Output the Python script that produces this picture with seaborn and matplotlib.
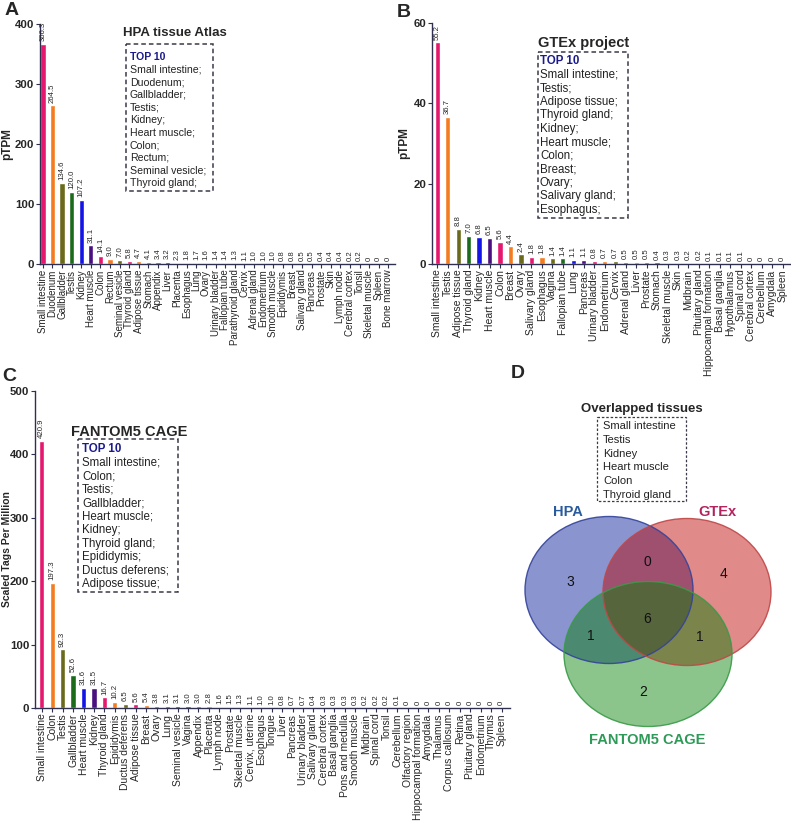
import numpy as np
import pandas as pd
import matplotlib
matplotlib.use("Agg")
import matplotlib.pyplot as plt
import seaborn as sns
from matplotlib.patches import Rectangle, Ellipse

W, H = 791, 834

# ---- data ----
hpa_tissues = ["Small intestine", "Duodenum", "Gallbladder", "Testis", "Kidney", "Heart muscle",
               "Colon", "Rectum", "Seminal vesicle", "Thyroid gland", "Adipose tissue", "Stomach",
               "Appendix", "Liver", "Placenta", "Esophagus", "Lung", "Ovary", "Urinary bladder",
               "Fallopian tube", "Parathyroid gland", "Cervix", "Adrenal gland", "Endometrium",
               "Smooth muscle", "Epididymis", "Breast", "Salivary gland", "Pancreas", "Prostate",
               "Skin", "Lymph node", "Cerebral cortex", "Tonsil", "Skeletal muscle", "Spleen",
               "Bone marrow"]
hpa_values = [366.3, 264.5, 134.6, 120.0, 107.2, 31.1, 14.1, 9.0, 7.0, 5.8, 4.7, 4.1, 3.4, 3.2,
              2.3, 1.8, 1.7, 1.6, 1.4, 1.4, 1.3, 1.1, 1.0, 1.0, 1.0, 0.8, 0.8, 0.5, 0.5, 0.4,
              0.4, 0.4, 0.2, 0.2, 0, 0, 0]

gtex_tissues = ["Small intestine", "Testis", "Adipose tissue", "Thyroid gland", "Kidney",
                "Heart muscle", "Colon", "Breast", "Ovary", "Salivary gland", "Esophagus", "Vagina",
                "Fallopian tube", "Lung", "Pancreas", "Urinary bladder", "Endometrium", "Cervix",
                "Adrenal gland", "Liver", "Prostate", "Stomach", "Skeletal muscle", "Skin",
                "Midbrain", "Pituitary gland", "Hippocampal formation", "Basal ganglia",
                "Hypothalamus", "Spinal cord", "Cerebral cortex", "Cerebellum", "Amygdala", "Spleen"]
gtex_values = [55.2, 36.7, 8.8, 7.0, 6.8, 6.5, 5.6, 4.4, 2.4, 1.8, 1.8, 1.4, 1.4, 1.1, 1.1,
               0.8, 0.7, 0.7, 0.5, 0.5, 0.5, 0.4, 0.3, 0.3, 0.2, 0.2, 0.1, 0.1, 0.1, 0.1,
               0, 0, 0, 0]

fantom_tissues = ["Small intestine", "Colon", "Testis", "Gallbladder", "Heart muscle", "Kidney",
                  "Thyroid gland", "Epididymis", "Ductus deferens", "Adipose tissue", "Breast",
                  "Ovary", "Lung", "Seminal vesicle", "Vagina", "Appendix", "Placenta",
                  "Lymph node", "Prostate", "Skeletal muscle", "Cervix, uterine", "Esophagus",
                  "Tongue", "Liver", "Pancreas", "Urinary bladder", "Salivary gland",
                  "Cerebral cortex", "Basal ganglia", "Pons and medulla", "Smooth muscle",
                  "Midbrain", "Spinal cord", "Tonsil", "Cerebellum", "Olfactory region",
                  "Hippocampal formation", "Amygdala", "Thalamus", "Corpus callosum", "Retina",
                  "Pituitary gland", "Endometrium", "Thymus", "Spleen"]
fantom_values = [420.9, 197.3, 92.3, 52.6, 31.6, 31.5, 16.7, 10.2, 6.5, 5.6, 5.4, 3.8, 3.1,
                 3.1, 3.0, 3.0, 2.8, 1.6, 1.5, 1.3, 1.1, 1.0, 1.0, 0.8, 0.7, 0.7, 0.4, 0.3,
                 0.3, 0.3, 0.3, 0.2, 0.2, 0.2, 0.1, 0, 0, 0, 0, 0, 0, 0, 0, 0, 0]

hpa_top10 = ["Small intestine;", "Duodenum;", "Gallbladder;", "Testis;", "Kidney;",
             "Heart muscle;", "Colon;", "Rectum;", "Seminal vesicle;", "Thyroid gland;"]
gtex_top10 = ["Small intestine;", "Testis;", "Adipose tissue;", "Thyroid gland;", "Kidney;",
              "Heart muscle;", "Colon;", "Breast;", "Ovary;", "Salivary gland;", "Esophagus;"]
fantom_top10 = ["Small intestine;", "Colon;", "Testis;", "Gallbladder;", "Heart muscle;",
                "Kidney;", "Thyroid gland;", "Epididymis;", "Ductus deferens;", "Adipose tissue;"]

overlap_tissues = ["Small intestine", "Testis", "Kidney", "Heart muscle", "Colon", "Thyroid gland"]
# region counts: HPA only, GTEx only, FANTOM only, HPA&GTEx, HPA&FANTOM, GTEx&FANTOM, all three
venn_counts = [3, 4, 2, 0, 1, 1, 6]

palette9 = ["#e6176f", "#f47c20", "#6b6a1c", "#1c6a1c", "#1414e6", "#4a0f80",
            "#e6176f", "#f47c20", "#6b6a1c"]

sns.set_style("ticks")
plt.rcParams['font.family'] = ['Liberation Sans', 'DejaVu Sans']

fig = plt.figure(figsize=(W / 100, H / 100), dpi=100)


def px_axes(x0, y0, x1, y1):
    return fig.add_axes([x0 / W, 1 - y1 / H, (x1 - x0) / W, (y1 - y0) / H])


def bar_panel(ax, tissues, values, ymax, ystep, ylabel, xlim, width, label_x,
              lab_fs=8.5, tick_fs=7.5):
    df = pd.DataFrame({"tissue": tissues, "value": values})
    colors = [palette9[i % 9] for i in range(len(tissues))]
    sns.barplot(data=df, x="tissue", y="value", hue="tissue", palette=colors,
                legend=False, width=width, saturation=1, ax=ax)
    for i, v in enumerate(values):
        lab = "0" if v == 0 else f"{v:.1f}"
        ax.annotate(lab, (i, v), xytext=(0, 2), textcoords="offset points",
                    rotation=90, ha="center", va="bottom", fontsize=5.6)
    ax.set_xlim(*xlim)
    ax.set_ylim(0, ymax)
    ax.set_yticks(np.arange(0, ymax + 1, ystep))
    ax.set_xticks(range(len(tissues)))
    ax.set_xticklabels(tissues, rotation=90, fontsize=tick_fs)
    for t in ax.get_yticklabels():
        t.set_fontweight("bold")
        t.set_fontsize(8.2)
    ax.tick_params(axis="x", length=3, pad=1, color="#2f2f4f")
    ax.tick_params(axis="y", length=3, pad=1, color="#2f2f4f")
    ax.set_xlabel("")
    ax.set_ylabel(ylabel, fontweight="bold", fontsize=lab_fs)
    ax.yaxis.set_label_coords(label_x, 0.5)
    for s in ["top", "right"]:
        ax.spines[s].set_visible(False)
    for s in ["left", "bottom"]:
        ax.spines[s].set_color("#2f2f4f")
        ax.spines[s].set_linewidth(1)
    ax.set_facecolor("none")


ax_a = px_axes(40, 24, 395, 264)
bar_panel(ax_a, hpa_tissues, hpa_values, 400, 100, "pTPM", (-0.3, 36.7), 0.55, -0.075,
          tick_fs=7.0)

ax_b = px_axes(432, 23, 790, 264)
bar_panel(ax_b, gtex_tissues, gtex_values, 60, 20, "pTPM", (-0.5, 33.7), 0.5, -0.06)

ax_c = px_axes(35, 391, 510, 708)
bar_panel(ax_c, fantom_tissues, fantom_values, 500, 100, "Scaled Tags Per Million",
          (-0.64, 44.8), 0.5, -0.0484, lab_fs=7.5)

# overlay in pixel coordinates for boxes, letters and the venn
ov = fig.add_axes([0, 0, 1, 1])
ov.set_xlim(0, W)
ov.set_ylim(H, 0)
ov.axis("off")
ov.patch.set_visible(False)


def top_box(x0, y0, x1, y1, title, tx, ty, items, lx, ly, dy, fs, tfs):
    ov.add_patch(Rectangle((x0, y0), x1 - x0, y1 - y0, fill=False, ls=(0, (3, 2)),
                           lw=1.1, ec="#3a3a4a"))
    ov.text(tx, ty, title, ha="center", va="center", fontweight="bold", fontsize=tfs)
    ov.text(lx, ly, "TOP 10", ha="left", va="center", fontweight="bold",
            fontsize=fs, color="#1a1a8c")
    for k, item in enumerate(items):
        ov.text(lx, ly + (k + 1) * dy, item, ha="left", va="center", fontsize=fs,
                color="#222222")


top_box(126, 44, 213, 191, "HPA tissue Atlas", 175, 33, hpa_top10, 130, 57, 12.6, 7.6, 9.5)
top_box(538, 52, 628, 218, "GTEx project", 584, 43, gtex_top10, 540, 61, 13.5, 8.3, 10.5)
top_box(78, 439, 178, 592, "FANTOM5 CAGE", 129, 432, fantom_top10, 82, 449, 13.5, 8.3, 10.5)

# panel letters
for letter, x, y in [("A", 12, 10), ("B", 404, 12), ("C", 9, 376), ("D", 518, 373)]:
    ov.text(x, y, letter, ha="center", va="center", fontweight="bold", fontsize=14)

# overlapped tissues box
ov.text(642, 409, "Overlapped tissues", ha="center", va="center", fontweight="bold", fontsize=9.5)
ov.add_patch(Rectangle((597, 417), 89, 84, fill=False, ls=(0, (2, 1.5)), lw=0.9, ec="#3a3a4a"))
for k, item in enumerate(overlap_tissues):
    ov.text(603, 426 + k * 13.8, item, ha="left", va="center", fontsize=8, color="#222222")

# venn
circles = [((609, 590), 168, 147, "#0a1f9a", 0.48, "#34439a"),
           ((687, 592), 168, 147, "#bc0000", 0.46, "#c04848"),
           ((648, 654), 168, 145, "#007f00", 0.45, "#3a9a48")]
for (c, w, h, fc, a, ec) in circles:
    ov.add_patch(Ellipse(c, w, h, fc=fc, ec="none", alpha=a))
for (c, w, h, fc, a, ec) in circles:
    ov.add_patch(Ellipse(c, w, h, fill=False, ec=ec, lw=1, alpha=0.9))

count_pos = [(570, 582), (724, 574), (643, 692), (647, 562), (591, 636), (700, 637), (647, 619)]
for (x, y), n in zip(count_pos, venn_counts):
    ov.text(x, y, str(n), ha="center", va="center", fontsize=10, color="#111111")

ov.text(568, 512, "HPA", ha="center", va="center", fontweight="bold", fontsize=10.5, color="#2a5b9c")
ov.text(717, 512, "GTEx", ha="center", va="center", fontweight="bold", fontsize=10.5, color="#b3245e")
ov.text(647, 740, "FANTOM5 CAGE", ha="center", va="center", fontweight="bold", fontsize=10.5,
        color="#2e9a58")

fig.savefig("out.png", dpi=100)
